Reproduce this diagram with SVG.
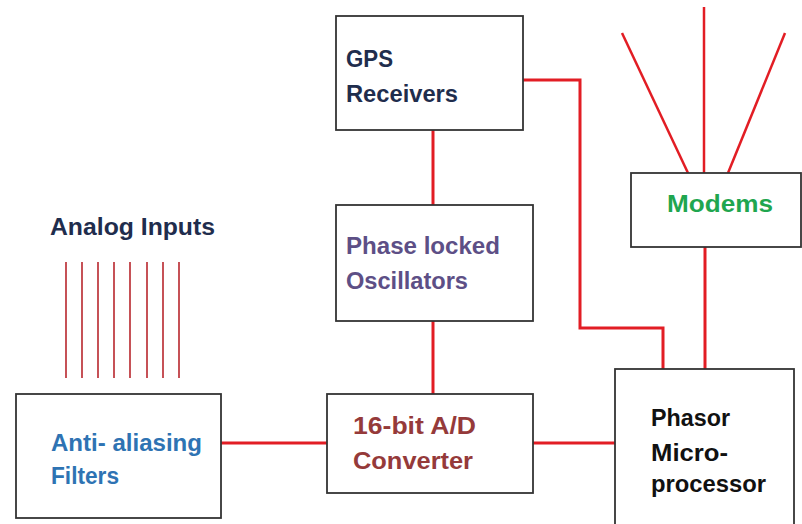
<svg xmlns="http://www.w3.org/2000/svg" width="802" height="524" viewBox="0 0 802 524">
  <style>
    .box { fill: #ffffff; stroke: #333333; stroke-width: 1.8; }
    .lbl { font-family: "Liberation Sans", Arial, sans-serif; font-weight: bold; font-size: 23px; }
    .wire { fill: none; stroke: #e21d24; stroke-width: 3; stroke-linejoin: miter; }
    .ant { fill: none; stroke: #e21d24; stroke-width: 2.5; }
    .in { fill: none; stroke: #b8262c; stroke-width: 1.6; }
  </style>
  <rect width="802" height="524" fill="#ffffff"/>

  <!-- analog input lines and title -->
  <g id="analog-inputs">
    <text class="lbl" x="50" y="235" fill="#1f2d4d" textLength="165" lengthAdjust="spacingAndGlyphs">Analog Inputs</text>
    <g class="in">
      <line x1="66" y1="262" x2="66" y2="378"/>
      <line x1="82" y1="262" x2="82" y2="378"/>
      <line x1="98" y1="262" x2="98" y2="378"/>
      <line x1="114" y1="262" x2="114" y2="378"/>
      <line x1="130" y1="262" x2="130" y2="378"/>
      <line x1="147" y1="262" x2="147" y2="378"/>
      <line x1="163" y1="262" x2="163" y2="378"/>
      <line x1="179" y1="262" x2="179" y2="378"/>
    </g>
  </g>

  <!-- connectors -->
  <g id="connectors">
    <polyline class="wire" points="523,80 580,80 580,328 663,328 663,369"/>
    <line class="wire" x1="433" y1="130" x2="433" y2="205"/>
    <line class="wire" x1="433" y1="321" x2="433" y2="394"/>
    <line class="wire" x1="221" y1="443" x2="327" y2="443"/>
    <line class="wire" x1="533" y1="443" x2="615" y2="443"/>
    <line class="wire" x1="705" y1="247" x2="705" y2="369"/>
    <!-- modem antennas -->
    <line class="ant" x1="704" y1="7" x2="704" y2="173"/>
    <line class="ant" x1="622" y1="33" x2="688" y2="173"/>
    <line class="ant" x1="785" y1="33" x2="728" y2="173"/>
  </g>

  <g id="gps">
    <rect class="box" x="336" y="16" width="187" height="114"/>
    <text class="lbl" x="346" y="67" fill="#1f2d4d" textLength="47" lengthAdjust="spacingAndGlyphs">GPS</text>
    <text class="lbl" x="346" y="102" fill="#1f2d4d" textLength="112" lengthAdjust="spacingAndGlyphs">Receivers</text>
  </g>

  <g id="pll">
    <rect class="box" x="336" y="205" width="197" height="116"/>
    <text class="lbl" x="346" y="254" fill="#5d4f86" textLength="154" lengthAdjust="spacingAndGlyphs">Phase locked</text>
    <text class="lbl" x="346" y="289" fill="#5d4f86" textLength="122" lengthAdjust="spacingAndGlyphs">Oscillators</text>
  </g>

  <g id="modems">
    <rect class="box" x="631" y="173" width="170" height="74"/>
    <text class="lbl" x="667" y="212" fill="#1fa64f" textLength="106" lengthAdjust="spacingAndGlyphs">Modems</text>
  </g>

  <g id="filters">
    <rect class="box" x="16" y="394" width="205" height="124"/>
    <text class="lbl" x="51" y="451" fill="#2e73b3" textLength="151" lengthAdjust="spacingAndGlyphs">Anti- aliasing</text>
    <text class="lbl" x="51" y="484" fill="#2e73b3" textLength="68" lengthAdjust="spacingAndGlyphs">Filters</text>
  </g>

  <g id="adc">
    <rect class="box" x="327" y="394" width="206" height="99"/>
    <text class="lbl" x="353" y="434" fill="#953a3a" textLength="123" lengthAdjust="spacingAndGlyphs">16-bit A/D</text>
    <text class="lbl" x="353" y="469" fill="#953a3a" textLength="120" lengthAdjust="spacingAndGlyphs">Converter</text>
  </g>

  <g id="phasor">
    <rect class="box" x="615" y="369" width="179" height="170"/>
    <text class="lbl" x="651" y="426" fill="#111111" textLength="79" lengthAdjust="spacingAndGlyphs">Phasor</text>
    <text class="lbl" x="651" y="461" fill="#111111" textLength="77" lengthAdjust="spacingAndGlyphs">Micro-</text>
    <text class="lbl" x="651" y="492" fill="#111111" textLength="115" lengthAdjust="spacingAndGlyphs">processor</text>
  </g>
</svg>
